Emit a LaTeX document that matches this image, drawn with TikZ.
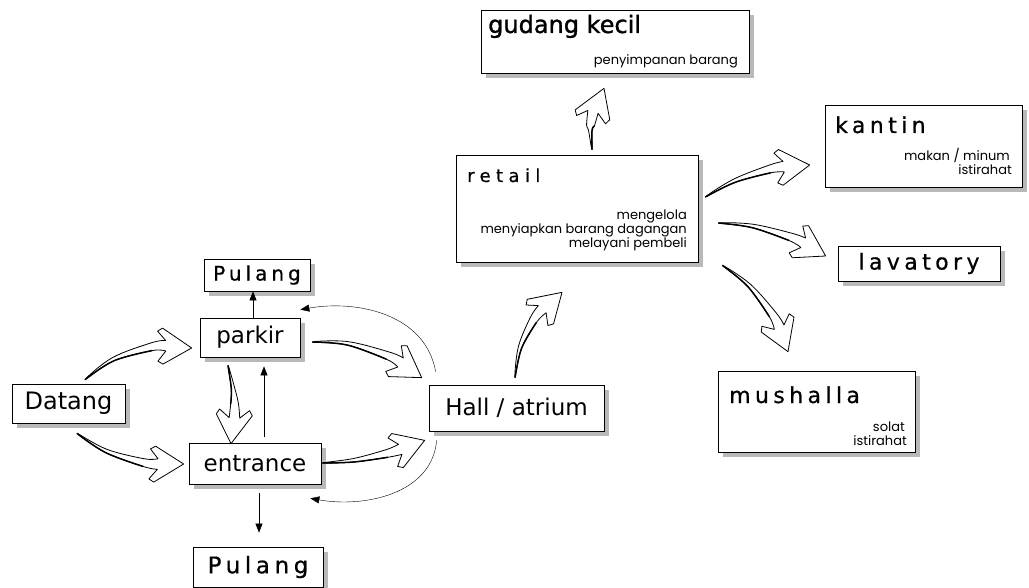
\documentclass[tikz,border=0pt]{standalone}
\usepackage{fontspec}
\setmainfont{DejaVu Sans}
\newfontfamily\labelfont{DejaVu Sans}
\newfontfamily\headfont[FakeBold=1.2]{DejaVu Sans}
\newfontfamily\spacedfont[LetterSpace=20,FakeBold=0.6]{DejaVu Sans}
\newfontfamily\widefont[LetterSpace=30,FakeBold=0.6]{DejaVu Sans}
\newfontfamily\notefont{Poppins}
\usetikzlibrary{shadows,decorations.markings,arrows.meta,calc}

\tikzset{
  box/.style={draw, line width=0.7pt, fill=white, inner sep=0pt,
    general shadow={fill=gray!55, shadow xshift=5pt, shadow yshift=-5pt}},
  lbl/.style={font=\labelfont\fontsize{23}{26}\selectfont},
  title/.style={anchor=base west, inner sep=0pt},
  note/.style={anchor=base east, inner sep=0pt, font=\notefont\fontsize{13}{14}\selectfont},
  fatline/.style={draw, line width=0.8pt, fill=white, line join=round},
  thinarrow/.style={line width=0.6pt, -{Triangle[length=9pt,width=7pt]}},
  arcarrow/.style={line width=0.4pt, -{Triangle[length=9pt,width=7pt]}},
}

% hollow hand-drawn style arrow: tapered shaft with a broad, notched head
\newcommand\fatarrow[3][]{%
  \path[decorate,decoration={markings,
    mark=at position 0.5pt with {\coordinate (fa0) at (-0.5,0);},
    mark=at position 0.3 with {\coordinate (fa1l) at (0,2.0); \coordinate (fa1r) at (0,-1.5);},
    mark=at position -40pt with {\coordinate (fa2l) at (0,4.2); \coordinate (fa2r) at (0,-3.6);},
    mark=at position -26pt with {\coordinate (fa3l) at (0,5.6); \coordinate (fa3r) at (0,-5.0);
       \coordinate (fa4l) at (-8,15); \coordinate (fa4r) at (-8,-15);
       \coordinate (fa6l) at (-3,18); \coordinate (fa6r) at (-3,-18);},
    mark=at position -0.5pt with {\coordinate (fa5) at (0.5,0);}}]
    #2 to[#1] #3;
  \draw[fatline] plot[smooth,tension=0.6] coordinates {(fa3r) (fa2r) (fa1r) (fa0) (fa1l) (fa2l) (fa3l)}
     -- (fa4l) -- (fa6l) -- (fa5) -- (fa6r) -- (fa4r) -- cycle;
  \draw[line width=1.5pt] plot[smooth,tension=0.6] coordinates {(fa0) (fa1r) (fa2r)};
}

\begin{document}
\begin{tikzpicture}[x=1pt,y=1pt]
\useasboundingbox (0,0) rectangle (1029,-588);

% left part: arrival, parking, entrance
\node[box, minimum width=106pt, minimum height=32pt] (pulangT) at (257,-275)
  {\spacedfont\fontsize{20}{22}\selectfont Pulang};
\node[box, lbl, minimum width=100pt, minimum height=39pt] (parkir) at (250,-337.5) {parkir};
\node[box, font=\labelfont\fontsize{24}{26}\selectfont, minimum width=113pt, minimum height=39pt] (datang) at (68.5,-403.5) {Datang};
\node[box, lbl, minimum width=132pt, minimum height=41pt] (entrance) at (255,-463.5) {entrance};
\node[box, minimum width=130pt, minimum height=40pt] (pulangB) at (258,-567)
  {\spacedfont\fontsize{23}{25}\selectfont Pulang};
\node[box, lbl, minimum width=175pt, minimum height=46pt] (hall) at (516.5,-408) {Hall / atrium};

% right part: activity rooms
\node[box, minimum width=242pt, minimum height=107pt] (retail) at (577,-208.5) {};
\node[box, minimum width=268pt, minimum height=63pt] (gudang) at (615,-41.5) {};
\node[box, minimum width=197pt, minimum height=82pt] (kantin) at (923.5,-146) {};
\node[box, minimum width=162pt, minimum height=35pt] (lavatory) at (919,-263.5)
  {\spacedfont\fontsize{22}{24}\selectfont lavatory};
\node[box, minimum width=197pt, minimum height=81pt] (mushalla) at (816.5,-411.5) {};

\node[title, font=\headfont\fontsize{24}{26}\selectfont] (gudangT) at (488,-33) {gudang kecil};
\node[note] (gudang1) at (738,-65) {penyimpanan barang};

\node[title, font=\widefont\fontsize{18}{20}\selectfont] (retailT) at (467,-182) {retail};
\node[note] (retail1) at (687,-220) {mengelola};
\node[note] (retail2) at (687,-234) {menyiapkan barang dagangan};
\node[note] (retail3) at (687,-248) {melayani pembeli};

\node[title, font=\spacedfont\fontsize{22}{24}\selectfont] (kantinT) at (835,-133) {kantin};
\node[note] (kantin1) at (1010,-161) {makan / minum};
\node[note] (kantin2) at (1012,-175) {istirahat};

\node[title, font=\spacedfont\fontsize{22}{24}\selectfont] (mushallaT) at (729,-403) {mushalla};
\node[note] (mushalla1) at (905,-431) {solat};
\node[note] (mushalla2) at (907,-445) {istirahat};

% thin connectors
\draw[thinarrow] ([xshift=3pt]parkir.north) -- ([xshift=-4pt]pulangT.south);
\draw[thinarrow] ([xshift=9pt,yshift=6pt]entrance.north) -- ([xshift=14pt,yshift=-9pt]parkir.south);
\draw[thinarrow] ([xshift=4pt,yshift=-9pt]entrance.south) -- ([xshift=1pt,yshift=14pt]pulangB.north);
\draw[arcarrow] ([shift={(7,13)}]hall.north west) to[out=100,in=10] ([shift={(0,8)}]parkir.north east);
\draw[arcarrow] ([shift={(8,-9)}]hall.south west) to[out=-95,in=-10] ([shift={(-11,-14)}]entrance.south east);

% broad flow arrows
\fatarrow[bend left=25]{([shift={(16.5,4)}]datang.north)}{([shift={(-8,-10.5)}]parkir.west)}
\fatarrow[bend right=20]{([shift={(8.5,-10)}]datang.south)}{([shift={(-5,-0.5)}]entrance.west)}
\fatarrow[bend left=20]{([shift={(12,-4.5)}]parkir.east)}{([shift={(-7,7)}]hall.north west)}
\fatarrow[bend right=10]{([shift={(1,0.5)}]entrance.east)}{([shift={(-4,-9)}]hall.south west)}
\fatarrow[bend left=12]{([shift={(-22,-8)}]parkir.south)}{([shift={(-24,-1)}]entrance.north)}
\fatarrow[bend left=25]{([shift={(-1.5,7)}]hall.north)}{([shift={(-15,-30)}]retail.south)}
\fatarrow[bend left=20]{([shift={(15,5)}]retail.north)}{([shift={(-11,-15)}]gudang.south)}
\fatarrow[bend left=15]{([shift={(7,11.5)}]retail.east)}{([shift={(-15,-19)}]kantin.west)}
\fatarrow[bend left=15]{([shift={(20,-14.5)}]retail.east)}{([shift={(-12,7.5)}]lavatory.west)}
\fatarrow[bend left=20]{([shift={(24,-3)}]retail.south east)}{([shift={(-28.5,19)}]mushalla.north)}
\end{tikzpicture}
\end{document}
